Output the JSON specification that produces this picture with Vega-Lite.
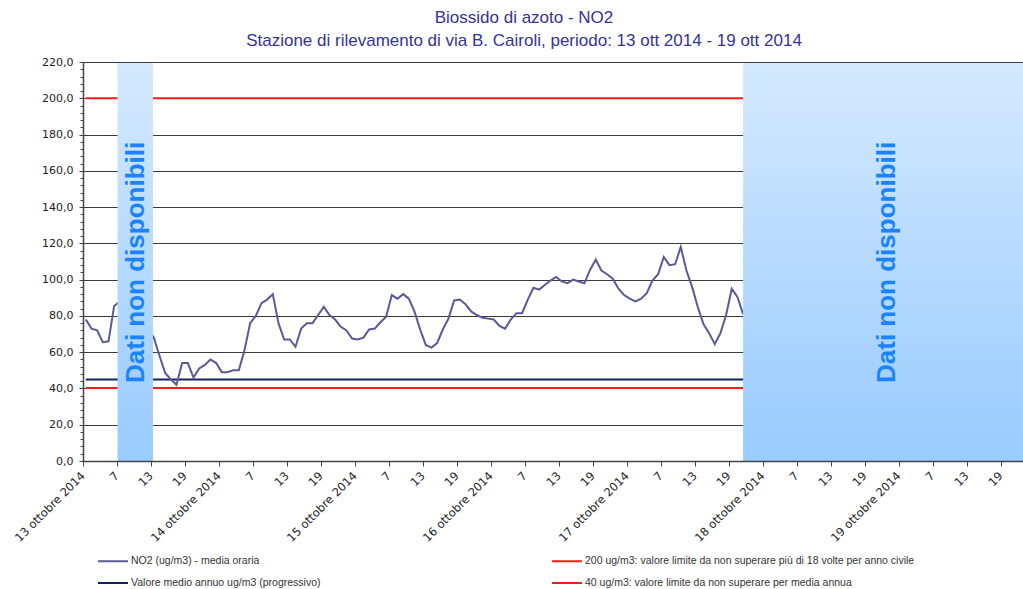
{
  "$schema": "https://vega.github.io/schema/vega-lite/v6.json",
  "width": 940,
  "height": 399,
  "autosize": {"type": "none"},
  "padding": {"left": 83, "top": 62, "right": 0, "bottom": 128},
  "background": "white",
  "config": {
    "view": {"stroke": null},
    "font": "Liberation Sans",
    "axis": {"labelOverlap": false},
    "axisX": {"labelOverlap": false, "labelFlush": false, "labelBound": false}
  },
  "title": {
    "text": ["Biossido di azoto - NO2", "Stazione di rilevamento di via B. Cairoli, periodo: 13 ott 2014 - 19 ott 2014"],
    "anchor": "middle",
    "dx": -29,
    "fontSize": 17,
    "fontWeight": "normal",
    "font": "Liberation Sans",
    "color": "#333399",
    "lineHeight": 23,
    "offset": 6
  },
  "datasets": {
    "no2": [
      {"h": 0.5, "v": 78}, {"h": 1.5, "v": 73}, {"h": 2.5, "v": 72}, {"h": 3.5, "v": 65.5}, {"h": 4.5, "v": 66},
      {"h": 5.5, "v": 85.5}, {"h": 6.5, "v": 88}, {"h": 7.5, "v": null}, {"h": 10.5, "v": null}, {"h": 11.5, "v": 73},
      {"h": 12.5, "v": 68}, {"h": 13.5, "v": 58}, {"h": 14.5, "v": 48.5}, {"h": 15.5, "v": 45}, {"h": 16.5, "v": 42},
      {"h": 17.5, "v": 54}, {"h": 18.5, "v": 54}, {"h": 19.5, "v": 46}, {"h": 20.5, "v": 51}, {"h": 21.5, "v": 53},
      {"h": 22.5, "v": 56}, {"h": 23.5, "v": 54}, {"h": 24.5, "v": 49}, {"h": 25.5, "v": 49}, {"h": 26.5, "v": 50},
      {"h": 27.5, "v": 50}, {"h": 28.5, "v": 61}, {"h": 29.5, "v": 76}, {"h": 30.5, "v": 80}, {"h": 31.5, "v": 87},
      {"h": 32.5, "v": 89}, {"h": 33.5, "v": 92}, {"h": 34.5, "v": 76}, {"h": 35.5, "v": 67}, {"h": 36.5, "v": 67},
      {"h": 37.5, "v": 63}, {"h": 38.5, "v": 73}, {"h": 39.5, "v": 76}, {"h": 40.5, "v": 76}, {"h": 41.5, "v": 80.5},
      {"h": 42.5, "v": 85}, {"h": 43.5, "v": 80.5}, {"h": 44.5, "v": 78}, {"h": 45.5, "v": 74}, {"h": 46.5, "v": 72},
      {"h": 47.5, "v": 67.5}, {"h": 48.5, "v": 67}, {"h": 49.5, "v": 68}, {"h": 50.5, "v": 72.5}, {"h": 51.5, "v": 73},
      {"h": 52.5, "v": 76.5}, {"h": 53.5, "v": 79.5}, {"h": 54.5, "v": 91.5}, {"h": 55.5, "v": 89.5}, {"h": 56.5, "v": 92},
      {"h": 57.5, "v": 89.5}, {"h": 58.5, "v": 82.5}, {"h": 59.5, "v": 72.5}, {"h": 60.5, "v": 64}, {"h": 61.5, "v": 62.5},
      {"h": 62.5, "v": 65}, {"h": 63.5, "v": 72.5}, {"h": 64.5, "v": 78.5}, {"h": 65.5, "v": 88.5}, {"h": 66.5, "v": 89},
      {"h": 67.5, "v": 86.5}, {"h": 68.5, "v": 82.5}, {"h": 69.5, "v": 80.5}, {"h": 70.5, "v": 79}, {"h": 71.5, "v": 78.5},
      {"h": 72.5, "v": 78}, {"h": 73.5, "v": 74.5}, {"h": 74.5, "v": 73}, {"h": 75.5, "v": 78}, {"h": 76.5, "v": 81.5},
      {"h": 77.5, "v": 81.5}, {"h": 78.5, "v": 89}, {"h": 79.5, "v": 95.5}, {"h": 80.5, "v": 94.5}, {"h": 81.5, "v": 97},
      {"h": 82.5, "v": 99.5}, {"h": 83.5, "v": 101.5}, {"h": 84.5, "v": 99}, {"h": 85.5, "v": 98}, {"h": 86.5, "v": 100},
      {"h": 87.5, "v": 99}, {"h": 88.5, "v": 98}, {"h": 89.5, "v": 105.5}, {"h": 90.5, "v": 111}, {"h": 91.5, "v": 105},
      {"h": 92.5, "v": 103}, {"h": 93.5, "v": 100.5}, {"h": 94.5, "v": 95}, {"h": 95.5, "v": 91.5}, {"h": 96.5, "v": 89.5},
      {"h": 97.5, "v": 88}, {"h": 98.5, "v": 89.5}, {"h": 99.5, "v": 92.5}, {"h": 100.5, "v": 99.5}, {"h": 101.5, "v": 103},
      {"h": 102.5, "v": 112.5}, {"h": 103.5, "v": 108}, {"h": 104.5, "v": 108.5}, {"h": 105.5, "v": 118}, {"h": 106.5, "v": 105},
      {"h": 107.5, "v": 96}, {"h": 108.5, "v": 85}, {"h": 109.5, "v": 75.5}, {"h": 110.5, "v": 70.5}, {"h": 111.5, "v": 64.5},
      {"h": 112.5, "v": 70.5}, {"h": 113.5, "v": 80.5}, {"h": 114.5, "v": 95}, {"h": 115.5, "v": 90.5}, {"h": 116.5, "v": 81}
    ],
    "refs": [
      {"series": "200 ug/m3: valore limite da non superare più di 18 volte per anno civile", "v": 200, "h": 0.5, "h2": 168},
      {"series": "Valore medio annuo ug/m3 (progressivo)", "v": 45, "h": 0.5, "h2": 168},
      {"series": "40 ug/m3: valore limite da non superare per media annua", "v": 40.2, "h": 0.5, "h2": 168}
    ],
    "bands": [
      {"h": 6.1, "h2": 12.35, "v": 0, "v2": 219.4},
      {"h": 116.5, "h2": 168, "v": 0, "v2": 219.4}
    ],
    "labels": [
      {"h": 9.3, "v": 109.5, "t": "Dati non disponibili"},
      {"h": 141.9, "v": 109.5, "t": "Dati non disponibili"}
    ]
  },
  "resolve": {"axis": {"y": "independent"}},
  "layer": [
    {
      "data": {"name": "refs"},
      "mark": {"type": "rule", "strokeWidth": 2},
      "encoding": {
        "x": {"field": "h", "type": "quantitative", "scale": {"domain": [0, 165.9], "nice": false, "zero": false},
          "axis": {
            "title": null,
            "values": [0, 6, 12, 18, 24, 30, 36, 42, 48, 54, 60, 66, 72, 78, 84, 90, 96, 102, 108, 114, 120, 126, 132, 138, 144, 150, 156, 162],
            "tickCount": 40,
            "labelExpr": "datum.value % 24 == 0 ? (13 + datum.value / 24) + ' ottobre 2014' : '' + (datum.value % 24 + 1)",
            "labelAngle": -45,
            "labelAlign": "right",
            "labelBaseline": "middle",
            "labelPadding": 8,
            "labelFont": "DejaVu Sans",
            "labelFontSize": 11.5,
            "labelColor": "#222222",
            "labelOverlap": false,
            "labelFlush": false,
            "labelBound": false,
            "tickSize": 5,
            "tickColor": "#444444",
            "tickWidth": 1,
            "domainColor": "#444444",
            "domainWidth": 1.5,
            "grid": false,
            "zindex": 1
          }
        },
        "x2": {"field": "h2"},
        "y": {"field": "v", "type": "quantitative", "scale": {"domain": [0, 220], "nice": false, "zero": true},
          "axis": {
            "orient": "left",
            "title": null,
            "values": [0, 4, 8, 12, 16, 24, 28, 32, 36, 44, 48, 52, 56, 64, 68, 72, 76, 84, 88, 92, 96, 104, 108, 112, 116, 124, 128, 132, 136, 144, 148, 152, 156, 164, 168, 172, 176, 184, 188, 192, 196, 204, 208, 212, 216],
            "tickCount": 80,
            "labels": false,
            "grid": false,
            "domain": false,
            "tickSize": 3,
            "tickColor": "#444444"
          }
        },
        "color": {
          "field": "series", "type": "nominal",
          "scale": {
            "domain": ["NO2 (ug/m3)  - media oraria", "200 ug/m3: valore limite da non superare più di 18 volte per anno civile", "Valore medio annuo ug/m3 (progressivo)", "40 ug/m3: valore limite da non superare per media annua"],
            "range": ["#5a5a96", "#ff1a1a", "#0c2461", "#ff1a1a"]
          },
          "legend": {
            "title": null,
            "orient": "none",
            "legendX": 14,
            "legendY": 483,
            "columns": 2,
            "direction": "horizontal",
            "columnPadding": 227,
            "rowPadding": -12,
            "padding": 0,
            "symbolType": "stroke",
            "symbolSize": 900,
            "symbolStrokeWidth": 2,
            "labelFont": "Liberation Sans",
            "labelFontSize": 10.5,
            "labelColor": "#333333",
            "labelOffset": 2,
            "labelLimit": 600
          }
        }
      }
    },
    {
      "data": {"name": "no2"},
      "mark": {"type": "line", "strokeWidth": 2, "color": "#5a5a96", "clip": true},
      "encoding": {
        "x": {"field": "h", "type": "quantitative", "axis": {"title": null, "labelOverlap": false}},
        "y": {"field": "v", "type": "quantitative",
          "axis": {
            "orient": "left",
            "title": null,
            "values": [0, 20, 40, 60, 80, 100, 120, 140, 160, 180, 200, 220],
            "tickCount": 20,
            "labelExpr": "replace(format(datum.value, '.1f'), '.', ',')",
            "labelFont": "DejaVu Sans",
            "labelFontSize": 11,
            "labelColor": "#222222",
            "labelPadding": 6,
            "tickSize": 4,
            "tickColor": "#444444",
            "domainColor": "#444444",
            "domainWidth": 1.5,
            "grid": true,
            "gridColor": "#3a3a3a",
            "gridWidth": 1.2
          }
        }
      }
    },
    {
      "data": {"name": "bands"},
      "mark": {"type": "rect", "clip": true,
        "fill": {"gradient": "linear", "x1": 0, "y1": 0, "x2": 0, "y2": 1,
          "stops": [{"offset": 0, "color": "#d4e9fd"}, {"offset": 1, "color": "#99cbff"}]}},
      "encoding": {
        "x": {"field": "h", "type": "quantitative", "axis": {"title": null, "labelOverlap": false}},
        "x2": {"field": "h2"},
        "y": {"field": "v", "type": "quantitative", "axis": null},
        "y2": {"field": "v2"}
      }
    },
    {
      "data": {"name": "labels"},
      "mark": {"type": "text", "angle": 270, "align": "center", "baseline": "middle", "font": "Liberation Sans", "fontWeight": "bold", "fontSize": 26, "color": "#1a84ff"},
      "encoding": {
        "x": {"field": "h", "type": "quantitative", "axis": {"title": null, "labelOverlap": false}},
        "y": {"field": "v", "type": "quantitative", "axis": null},
        "text": {"field": "t"}
      }
    }
  ]
}
